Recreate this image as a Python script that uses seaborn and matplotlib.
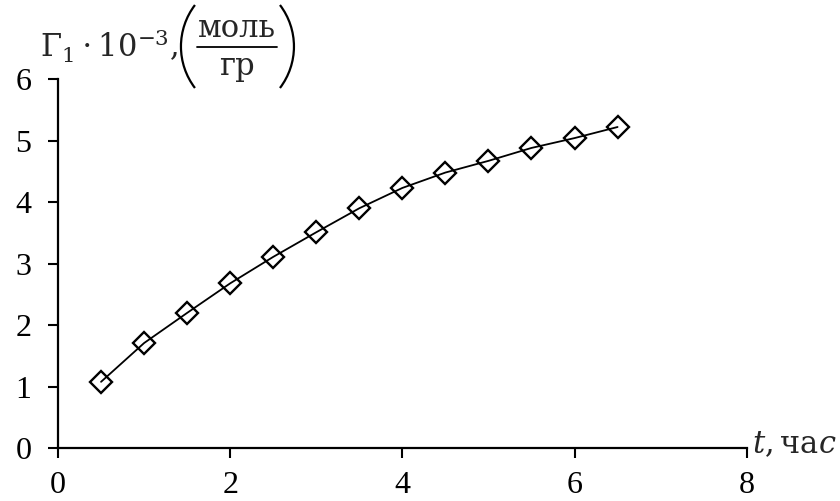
import numpy as np
import matplotlib
matplotlib.use("Agg")
import matplotlib.pyplot as plt
from matplotlib.patches import Arc
from matplotlib.lines import Line2D
from matplotlib.transforms import IdentityTransform
import seaborn as sns
import pandas as pd

# Adsorption Γ1 vs time
time_h = [0.5, 1.0, 1.5, 2.0, 2.5, 3.0, 3.5, 4.0, 4.5, 5.0, 5.5, 6.0, 6.5]
gamma1 = [1.08, 1.71, 2.20, 2.68, 3.11, 3.51, 3.90, 4.23, 4.48, 4.67, 4.88, 5.04, 5.22]
x_ticks = [0, 2, 4, 6, 8]
y_ticks = [0, 1, 2, 3, 4, 5, 6]

df = pd.DataFrame({"t": time_h, "g": gamma1})

sns.set_theme(style="ticks")
plt.rcParams["font.family"] = ["Liberation Serif", "DejaVu Serif"]
plt.rcParams["mathtext.fontset"] = "dejavuserif"

W, H = 840, 501
fig = plt.figure(figsize=(W / 100, H / 100), dpi=100)
ax = fig.add_axes([58 / W, 1 - 448.3 / H, (746.7 - 58) / W, (448.3 - 79) / H])

sns.lineplot(data=df, x="t", y="g", ax=ax, color="black", linewidth=1.3,
             marker="D", markersize=11, markerfacecolor="none",
             markeredgecolor="black", markeredgewidth=1.7)

ax.set_xlim(0, 8)
ax.set_ylim(0, 6)
ax.set_xticks(x_ticks)
ax.set_yticks(y_ticks)
ax.tick_params(axis="both", labelsize=23, length=7.2, width=1.5, colors="black",
               direction="out")
ax.tick_params(axis="x", pad=9)
ax.tick_params(axis="y", pad=12)
for side in ("top", "right"):
    ax.spines[side].set_visible(False)
for side in ("left", "bottom"):
    ax.spines[side].set_linewidth(1.6)
    ax.spines[side].set_color("black")
ax.set_xlabel("")
ax.set_ylabel("")

# --- y-axis caption: Γ1·10^-3, (моль / гр), laid out in pixel coordinates
px = IdentityTransform()
renderer = fig.canvas.get_renderer()


def ypx(y_from_top):
    return H - y_from_top


head = fig.text(40, ypx(58), r"$\Gamma_1\cdot10^{-3},$", fontsize=22,
                ha="left", va="baseline", family="DejaVu Serif", transform=px)
x_after = head.get_window_extent(renderer).x1

paren_top, paren_bot = 5, 88
sag = 14
chord = paren_bot - paren_top
R = (chord ** 2 / 4 + sag ** 2) / (2 * sag)
alpha = np.degrees(np.arcsin(chord / 2 / R))
yc = ypx((paren_top + paren_bot) / 2)

left_x = x_after + 3
fig.add_artist(Arc((left_x + R, yc), 2 * R, 2 * R, theta1=180 - alpha,
                   theta2=180 + alpha, transform=px, color="black", lw=1.6))

num = fig.text(0, ypx(37), "моль", fontsize=22, ha="center", va="baseline",
               family="DejaVu Serif", transform=px)
wnum = num.get_window_extent(renderer).width
cx = left_x + sag + 3 + wnum / 2
num.set_x(cx)
fig.text(cx, ypx(75), "гр", fontsize=22, ha="center", va="baseline",
         family="DejaVu Serif", transform=px)
bar_l, bar_r = cx - wnum / 2 - 1, cx + wnum / 2 + 1
fig.add_artist(Line2D([bar_l, bar_r], [ypx(47), ypx(47)], transform=px,
                      color="black", lw=1.3))

right_x = bar_r + 3 + sag
fig.add_artist(Arc((right_x - R, yc), 2 * R, 2 * R, theta1=-alpha,
                   theta2=alpha, transform=px, color="black", lw=1.6))

# --- x-axis caption
fig.text(752, ypx(453), r"$t,\mathrm{ча}c$", fontsize=22,
         ha="left", va="baseline", family="DejaVu Serif", transform=px)

fig.savefig("out.png", dpi=100, facecolor="white")
